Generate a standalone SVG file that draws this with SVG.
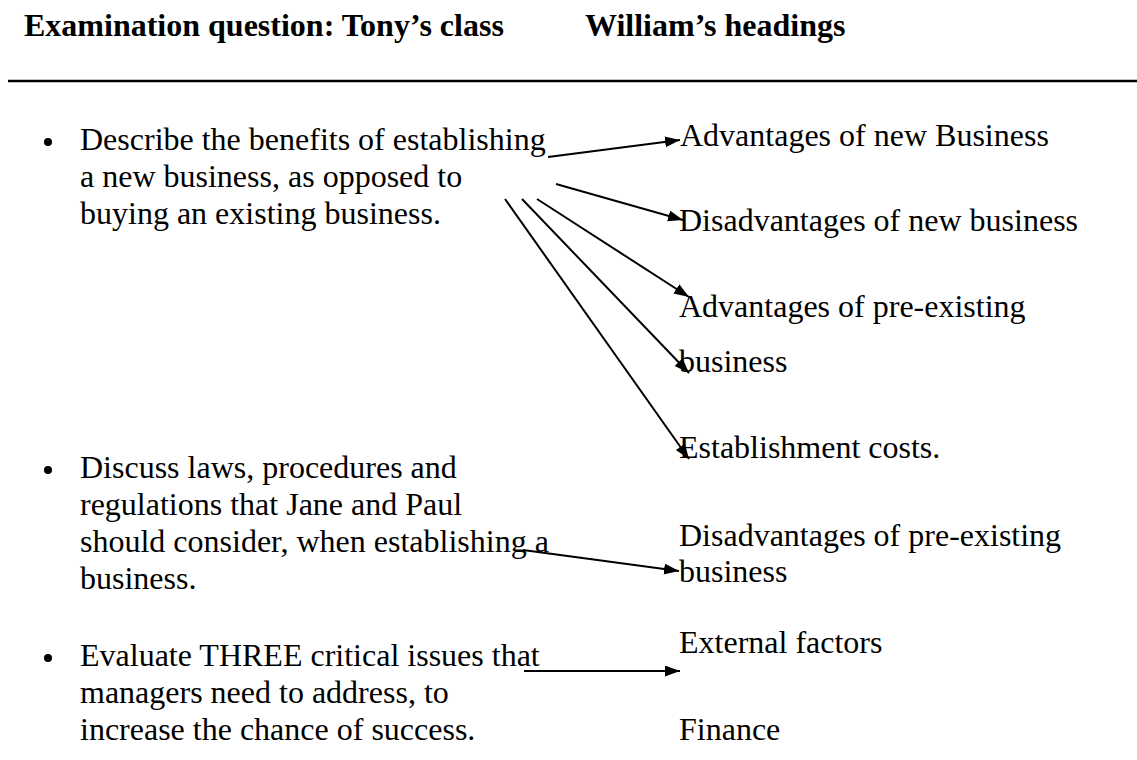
<svg xmlns="http://www.w3.org/2000/svg" width="1137" height="760" viewBox="0 0 1137 760">
<style>
text{font-family:"Liberation Serif","Times New Roman",serif;fill:#000}
.h{font-size:32px;font-weight:bold}
.t{font-size:32px}
.c{stroke:#000;stroke-width:2;fill:none;marker-end:url(#ah)}
</style>
<defs>
<marker id="ah" markerUnits="userSpaceOnUse" markerWidth="16" markerHeight="12" refX="15" refY="5.5" orient="auto">
<path d="M0,0 L15,5.5 L0,11 z" fill="#000"/>
</marker>
</defs>
<rect width="1137" height="760" fill="#fff"/>
<g id="header">
<text class="h" x="24" y="36">Examination question: Tony’s class</text>
<text class="h" x="585" y="36">William’s headings</text>
<line x1="8" y1="81" x2="1137" y2="81" stroke="#000" stroke-width="2.5"/>
</g>
<g id="q1">
<circle cx="48" cy="142" r="4"/>
<text class="t" x="80" y="150">Describe the benefits of establishing</text>
<text class="t" x="80" y="187">a new business, as opposed to</text>
<text class="t" x="80" y="224">buying an existing business.</text>
</g>
<g id="q2">
<circle cx="48" cy="470" r="4"/>
<text class="t" x="80" y="478">Discuss laws, procedures and</text>
<text class="t" x="80" y="515">regulations that Jane and Paul</text>
<text class="t" x="80" y="552">should consider, when establishing a</text>
<text class="t" x="80" y="589">business.</text>
</g>
<g id="q3">
<circle cx="48" cy="658" r="4"/>
<text class="t" x="80" y="666">Evaluate THREE critical issues that</text>
<text class="t" x="80" y="703">managers need to address, to</text>
<text class="t" x="80" y="740">increase the chance of success.</text>
</g>
<g id="h1"><text class="t" x="680" y="146">Advantages of new Business</text></g>
<g id="h2"><text class="t" x="679" y="231">Disadvantages of new business</text></g>
<g id="h3"><text class="t" x="679" y="317">Advantages of pre-existing</text><text class="t" x="679" y="372">business</text></g>
<g id="h4"><text class="t" x="679" y="458">Establishment costs.</text></g>
<g id="h5"><text class="t" x="679" y="546">Disadvantages of pre-existing</text><text class="t" x="679" y="582">business</text></g>
<g id="h6"><text class="t" x="679" y="653">External factors</text></g>
<g id="h7"><text class="t" x="679" y="740">Finance</text></g>
<g id="connectors">
<line class="c" x1="548" y1="157" x2="680" y2="140"/>
<line class="c" x1="556" y1="184" x2="683" y2="220"/>
<line class="c" x1="537" y1="199" x2="689" y2="297"/>
<line class="c" x1="522" y1="199" x2="689" y2="373"/>
<line class="c" x1="505" y1="199" x2="689" y2="459"/>
<line class="c" x1="523" y1="550" x2="679" y2="571"/>
<line class="c" x1="524" y1="671" x2="680" y2="671"/>
</g>
</svg>
